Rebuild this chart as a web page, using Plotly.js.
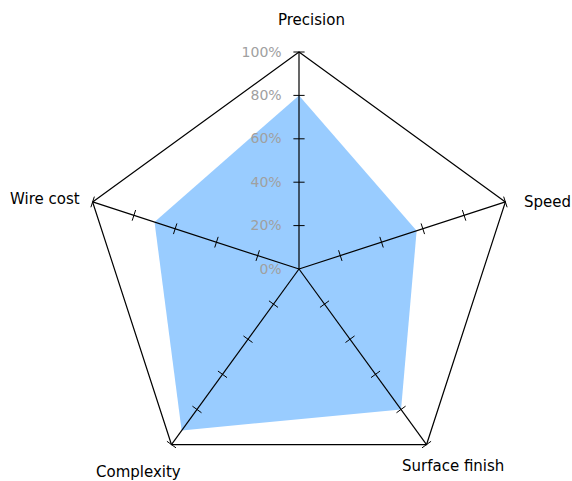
<!DOCTYPE html>
<html>
<head>
<meta charset="utf-8">
<script src="https://cdn.plot.ly/plotly-3.0.1.min.js"></script>
<style>html,body{margin:0;padding:0;overflow:hidden;background:#fff;}</style>
</head>
<body>
<div id="chart" style="width:572px;height:486px;"></div>
<script>
const categories = ["Precision", "Speed", "Surface finish", "Complexity", "Wire cost"];
const values = [80, 57, 80, 92, 70];
const radialTicks = [0, 20, 40, 60, 80, 100];
const tickLabels = ["0%", "20%", "40%", "60%", "80%", "100%"];

// spokes from centre to each vertex
const spokeR = [], spokeTheta = [];
categories.forEach(c => { spokeR.push(0, 100, null); spokeTheta.push(c, c, null); });

// tick marks along every spoke (perpendicular short lines)
const tickR = [], tickTheta = [], tickAngle = [];
categories.forEach((c, i) => {
  radialTicks.slice(1).forEach(t => {
    tickR.push(t); tickTheta.push(c); tickAngle.push(i * 360 / categories.length);
  });
});

const data = [
  {
    type: "scatterpolar",
    r: values.concat([values[0]]),
    theta: categories.concat([categories[0]]),
    mode: "lines",
    fill: "toself",
    fillcolor: "#99CCFF",
    line: {color: "rgba(0,0,0,0)", width: 0},
    hoverinfo: "skip",
    showlegend: false
  },
  {
    type: "scatterpolar",
    r: spokeR,
    theta: spokeTheta,
    mode: "lines",
    line: {color: "#000", width: 1.2},
    connectgaps: false,
    hoverinfo: "skip",
    showlegend: false
  },
  {
    type: "scatterpolar",
    r: tickR,
    theta: tickTheta,
    mode: "markers",
    marker: {symbol: "line-ew", size: 8, angle: tickAngle, color: "#000", line: {color: "#000", width: 1}},
    hoverinfo: "skip",
    showlegend: false,
    cliponaxis: false
  }
];

// pixel -> paper helpers (plot area: x 82..516, y 52..486)
const L = 82, T = 52, S = 434, H = 486;
const px = x => (x - L) / S;
const py = y => (H - y) / S;
const labelPos = [
  {x: 311, y: 20, xa: "center"},
  {x: 522, y: 202, xa: "left"},
  {x: 453, y: 466, xa: "center"},
  {x: 138, y: 472, xa: "center"},
  {x: 82, y: 199, xa: "right"}
];
const annotations = categories.map((c, i) => ({
  text: c, xref: "paper", yref: "paper",
  x: px(labelPos[i].x), y: py(labelPos[i].y),
  xanchor: labelPos[i].xa, yanchor: "middle",
  showarrow: false,
  font: {family: "DejaVu Sans, sans-serif", size: 15, color: "#000"}
}));

const layout = {
  width: 572,
  height: H,
  margin: {l: L, r: 572 - L - S, t: T, b: 0},
  paper_bgcolor: "#fff",
  showlegend: false,
  font: {family: "DejaVu Sans, sans-serif", color: "#000"},
  annotations: annotations,
  polar: {
    bgcolor: "rgba(0,0,0,0)",
    gridshape: "linear",
    radialaxis: {
      range: [0, 100],
      angle: 90,
      tickangle: 90,
      side: "counterclockwise",
      tickvals: radialTicks,
      ticktext: tickLabels,
      ticks: "outside",
      ticklen: 12,
      tickcolor: "rgba(0,0,0,0)",
      showgrid: false,
      showline: false,
      tickfont: {size: 14, color: "#a0a0a0"},
      layer: "above traces"
    },
    angularaxis: {
      direction: "clockwise",
      rotation: 90,
      categoryarray: categories,
      showgrid: false,
      showticklabels: false,
      showline: true,
      linecolor: "#000",
      linewidth: 1.2,
      ticks: "",
      layer: "above traces"
    }
  }
};

Plotly.newPlot("chart", data, layout, {displayModeBar: false, staticPlot: true});
</script>
</body>
</html>
